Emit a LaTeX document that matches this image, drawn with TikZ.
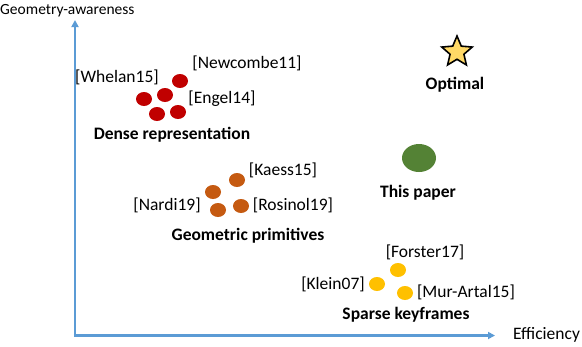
\documentclass[tikz,border=0pt]{standalone}
\usepackage{fontspec}
\setmainfont{Carlito}
\usetikzlibrary{shapes.geometric,arrows.meta}
\definecolor{axisblue}{HTML}{5B9BD5}
\definecolor{dred}{HTML}{C00000}
\definecolor{dorange}{HTML}{C55A11}
\definecolor{dyellow}{HTML}{FFC000}
\definecolor{dgreen}{HTML}{548235}
\definecolor{starfill}{HTML}{FFD966}
\begin{document}
\begin{tikzpicture}[x=1pt,y=-1pt,
  lbl/.style={font=\fontsize{17.5}{19}\selectfont, inner sep=0pt},
  blbl/.style={font=\fontsize{17.5}{19}\selectfont\bfseries, inner sep=0pt},
  dotr/.style={ellipse, fill=dred, minimum width=16pt, minimum height=14pt, inner sep=0pt},
  doto/.style={ellipse, fill=dorange, minimum width=16pt, minimum height=14pt, inner sep=0pt},
  doty/.style={ellipse, fill=dyellow, minimum width=16pt, minimum height=14pt, inner sep=0pt},
  axis/.style={draw=axisblue, line width=2.2pt, -{Triangle[length=7pt,width=7pt]}}]
\useasboundingbox (0,0) rectangle (582,346);
% axes
\coordinate (origin) at (75,335.5);
\coordinate (ytop) at (75,20);
\coordinate (xend) at (495,335.5);
\draw[axis] ([yshift=1.1pt]origin) -- (ytop);
\draw[axis] ([xshift=-1.1pt]origin) -- (xend);
\node[font=\fontsize{15.5}{17}\selectfont, inner sep=0pt, anchor=west] (ylab) at (0,11) {Geometry-awareness};
\node[lbl, anchor=west] (xlab) at (513,335) {Efficiency};
% dense
\node[dotr] (r1) at (180,81) {};
\node[dotr] (r2) at (144,99) {};
\node[dotr] (r3) at (165,95) {};
\node[dotr] (r4) at (157,114) {};
\node[dotr] (r5) at (178,112) {};
\node[lbl] (newc) at (247,63) {[Newcombe11]};
\node[lbl] (whel) at (117,77) {[Whelan15]};
\node[lbl] (engel) at (222,99) {[Engel14]};
\node[blbl] (dense) at (172,135) {Dense representation};
% geometric
\node[doto] (o1) at (237,180) {};
\node[doto] (o2) at (213,192) {};
\node[doto] (o3) at (218,210) {};
\node[doto] (o4) at (241,206) {};
\node[lbl] (kaess) at (283,170) {[Kaess15]};
\node[lbl] (nardi) at (167,205) {[Nardi19]};
\node[lbl] (rosinol) at (293,205) {[Rosinol19]};
\node[blbl] (geom) at (248,236) {Geometric primitives};
% sparse
\node[doty] (y1) at (398,270) {};
\node[doty] (y2) at (377,284) {};
\node[doty] (y3) at (405,293) {};
\node[lbl] (forster) at (425,252) {[Forster17]};
\node[lbl] (klein) at (333,284) {[Klein07]};
\node[lbl] (mur) at (466,292) {[Mur-Artal15]};
\node[blbl] (sparse) at (406,315) {Sparse keyframes};
% this paper
\node[ellipse, fill=dgreen, minimum width=34pt, minimum height=28pt, inner sep=0pt] (paper) at (419,158) {};
\node[blbl] (paperlbl) at (418,193) {This paper};
% optimal
\node[star, star points=5, star point ratio=2.2, minimum size=32pt, inner sep=0pt, draw=black, line width=1.6pt, fill=starfill] (opt) at (457,52) {};
\node[blbl] (optlbl) at (455,85) {Optimal};
\end{tikzpicture}
\end{document}
